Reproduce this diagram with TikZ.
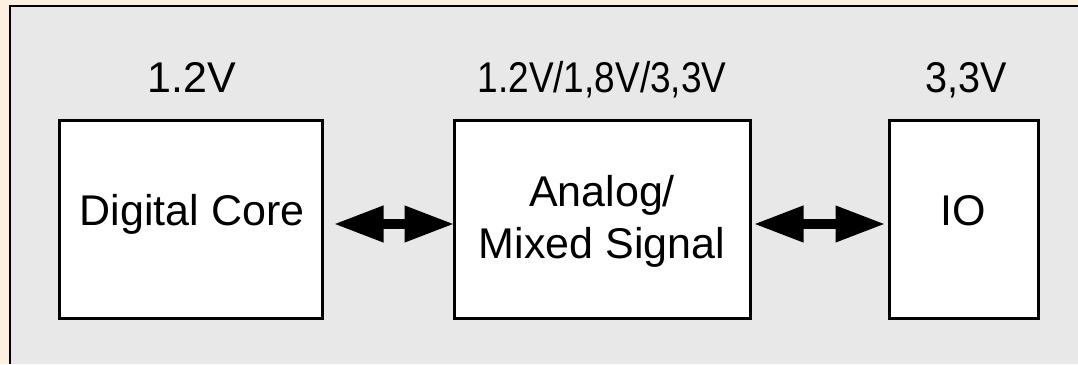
\documentclass[tikz,border=0pt]{standalone}
\usepackage{fontspec}
\setmainfont{Liberation Sans}
\usetikzlibrary{arrows.meta}
\definecolor{pagebg}{RGB}{253,240,224}
\definecolor{panel}{RGB}{232,232,232}
\tikzset{
  block/.style={draw=black, line width=3pt, fill=white, minimum height=197pt, inner sep=0pt},
  label/.style={anchor=base, font=\fontsize{43}{48}\selectfont, inner sep=0pt},
  link/.style={line width=10pt,
    {Triangle[length=50pt,width=34pt]}-{Triangle[length=50pt,width=34pt]}},
}
\begin{document}
\begin{tikzpicture}[x=1pt,y=1pt]
  \useasboundingbox (0,0) rectangle (1078,364);
  % page and panel
  \fill[pagebg] (0,0) rectangle (1078,364);
  \fill[panel] (10,0) rectangle (1078,358);
  \draw[line width=1.5pt] (10,0) -- (10,358) -- (1078,358);

  % blocks
  \node[block, minimum width=263pt] (dc) at (190.5,144.5) {};
  \node[block, minimum width=296pt] (ms) at (602,144.5) {};
  \node[block, minimum width=149pt] (io) at (963.5,144.5) {};

  % block texts
  \node[label] (dct) at (192,138) {Digital Core};
  \node[label] (mst1) at (602,157) {Analog/};
  \node[label] (mst2) at (602,105) {Mixed Signal};
  \node[label] (iot) at (963.5,138) {IO};

  % supply voltages
  \node[label] (dcv) at (192,271) {1.2V};
  \node[label, xscale=0.86, transform shape] (msv) at (602,271) {1.2V/1,8V/3,3V};
  \node[label, xscale=0.92, transform shape] (iov) at (966,271) {3,3V};

  % interfaces
  \draw[link, shorten <=10pt, shorten >=-2pt] ([yshift=-4.5pt]dc.east) -- ([yshift=-4.5pt]ms.west);
  \draw[link, shorten <=2pt, shorten >=2pt] ([yshift=-4.5pt]ms.east) -- ([yshift=-4.5pt]io.west);
\end{tikzpicture}
\end{document}
